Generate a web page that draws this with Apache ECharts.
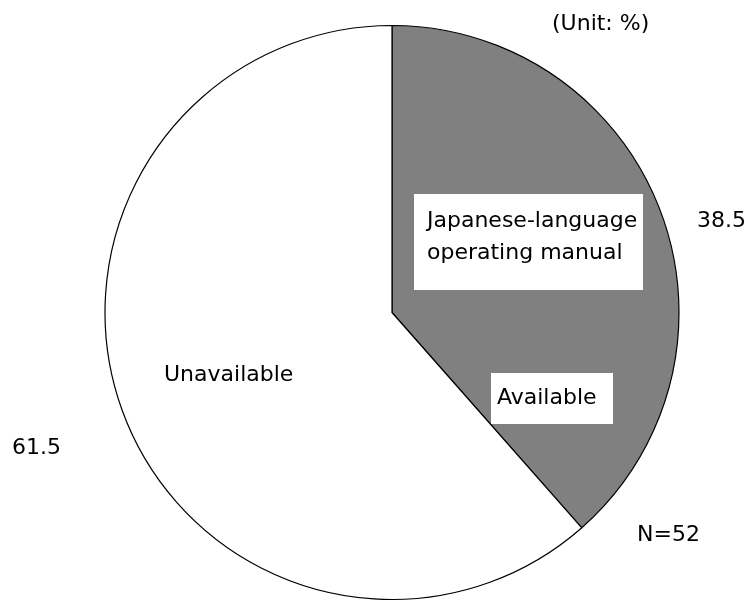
<!DOCTYPE html>
<html>
<head>
<meta charset="utf-8">
<style>
  html, body { margin: 0; padding: 0; background: #fff; }
  #chart { width: 745px; height: 601px; }
</style>
<script src="https://cdn.jsdelivr.net/npm/echarts@6/dist/echarts.min.js"></script>
</head>
<body>
<div id="chart"></div>
<script>
// Share of respondents with a Japanese-language operating manual (N=52)
const categories = ['Available', 'Unavailable'];
const shares = [38.5, 61.5];
const sliceColors = ['#808080', '#ffffff'];
const unitNote = '(Unit: %)';
const sampleNote = 'N=52';
const headingLines = ['Japanese-language', 'operating manual'];

const FONT = '22px "DejaVu Sans"';

const chart = echarts.init(document.getElementById('chart'), null, { renderer: 'canvas' });

const pieData = categories.map((name, i) => ({
  name,
  value: shares[i],
  itemStyle: { color: sliceColors[i] }
}));

const textEl = (text, x, y, extra) => ({
  type: 'text',
  x, y,
  z: 10,
  style: Object.assign({
    text,
    font: FONT,
    fill: '#000',
    textAlign: 'left',
    textVerticalAlign: 'middle'
  }, extra || {})
});

chart.setOption({
  backgroundColor: '#ffffff',
  animation: false,
  series: [{
    type: 'pie',
    center: [392, 312.5],
    radius: [0, 287],
    startAngle: 90,
    clockwise: true,
    silent: true,
    label: { show: false },
    labelLine: { show: false },
    itemStyle: { borderColor: '#000', borderWidth: 1.2 },
    emphasis: { disabled: true },
    data: pieData
  }],
  graphic: [
    // white label panels inside the grey slice
    { type: 'rect', z: 9, shape: { x: 414, y: 194, width: 229, height: 96 }, style: { fill: '#fff' } },
    { type: 'rect', z: 9, shape: { x: 491, y: 373, width: 122, height: 51 }, style: { fill: '#fff' } },
    textEl(headingLines.join('\n'), 427, 237, { lineHeight: 32 }),
    textEl(categories[0], 497, 398),
    textEl(categories[1], 164, 375),
    textEl(shares[0].toFixed(1), 697, 221),
    textEl(shares[1].toFixed(1), 12, 448),
    textEl(unitNote, 552, 24),
    textEl(sampleNote, 637, 535)
  ]
});
</script>
</body>
</html>
